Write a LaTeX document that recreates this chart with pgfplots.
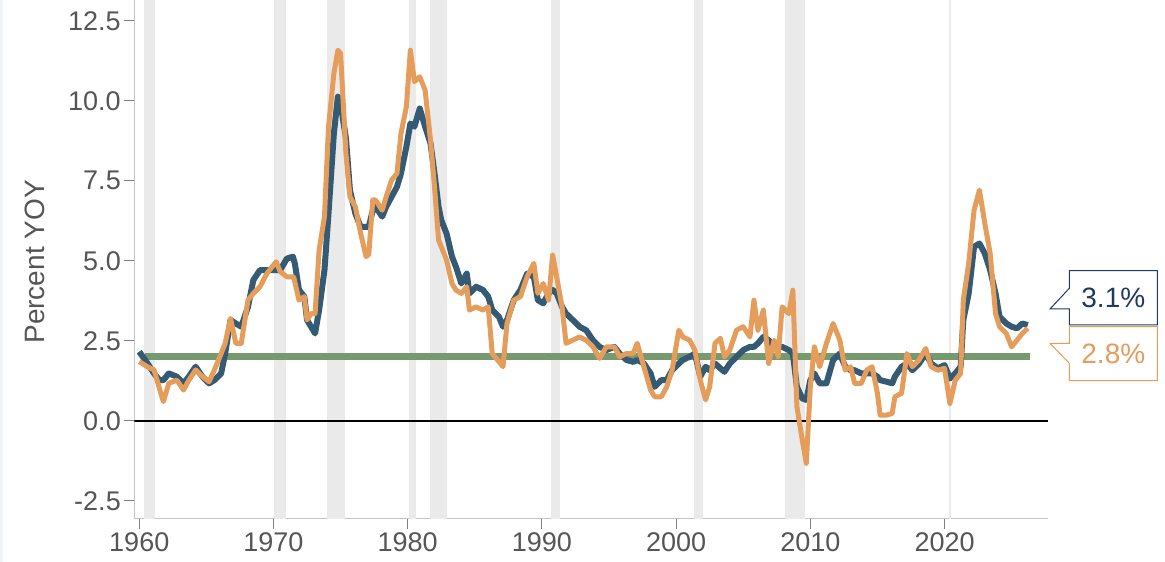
\documentclass[border=0pt]{standalone}
\usepackage{fontspec}
\setmainfont{Liberation Sans}
\usepackage{pgfplots}
\pgfplotsset{compat=1.18}
\definecolor{coreblue}{HTML}{355A73}
\definecolor{headorange}{HTML}{E49D5B}
\definecolor{tgtgreen}{HTML}{76996F}
\definecolor{recgray}{HTML}{EAEAEA}
\definecolor{ticktext}{HTML}{555555}
\definecolor{axgray}{HTML}{C4C4C4}
\definecolor{navy}{HTML}{1F3A60}
\definecolor{edgegray}{HTML}{F0F3F5}
\begin{document}
\begin{tikzpicture}
\useasboundingbox (0pt,0pt) rectangle (1165pt,562pt);
\begin{axis}[
  at={(134.3pt,43.3pt)}, anchor=south west,
  scale only axis, width=913.7pt, height=518.7pt,
  xmin=1959.63, xmax=2027.71, ymin=-3.06, ymax=13.15,
  axis x line*=bottom, axis y line*=left,
  axis line style={draw=axgray, line width=1.5pt, -},
  xtick={1960,1970,1980,1990,2000,2010,2020},
  xticklabels={1960,1970,1980,1990,2000,2010,2020},
  ytick={-2.5,0,2.5,5,7.5,10,12.5},
  yticklabels={-2.5,0.0,2.5,5.0,7.5,10.0,12.5},
  tick label style={font=\fontsize{27}{32}\selectfont, text=ticktext},
  tick align=outside, major tick length=10pt,
  tick style={draw=gray, line width=1pt},
  ylabel={Percent YOY},
  ylabel style={font=\fontsize{28}{33}\selectfont, text=ticktext, at={(axis description cs:-0.1087,0.495)}, anchor=center},
  clip=true,
]
% recessions
\addplot[fill=recgray, draw=none, forget plot] coordinates {(1960.33,-4) (1960.33,14) (1961.17,14) (1961.17,-4)};
\addplot[fill=recgray, draw=none, forget plot] coordinates {(1970.02,-4) (1970.02,14) (1970.90,14) (1970.90,-4)};
\addplot[fill=recgray, draw=none, forget plot] coordinates {(1973.96,-4) (1973.96,14) (1975.30,14) (1975.30,-4)};
\addplot[fill=recgray, draw=none, forget plot] coordinates {(1980.12,-4) (1980.12,14) (1980.62,14) (1980.62,-4)};
\addplot[fill=recgray, draw=none, forget plot] coordinates {(1981.66,-4) (1981.66,14) (1982.95,14) (1982.95,-4)};
\addplot[fill=recgray, draw=none, forget plot] coordinates {(1990.68,-4) (1990.68,14) (1991.35,14) (1991.35,-4)};
\addplot[fill=recgray, draw=none, forget plot] coordinates {(2001.36,-4) (2001.36,14) (2002.03,14) (2002.03,-4)};
\addplot[fill=recgray, draw=none, forget plot] coordinates {(2008.14,-4) (2008.14,14) (2009.63,14) (2009.63,-4)};
\addplot[fill=recgray, draw=none, forget plot] coordinates {(2020.34,-4) (2020.34,14) (2020.49,14) (2020.49,-4)};
% zero line
\addplot[black, line width=2pt, forget plot] coordinates {(1959.63,0) (2027.71,0)};
% 2% target
\addplot[tgtgreen, line width=6.8pt, forget plot] coordinates {(1960.45,2) (2026.4,2)};
% core
\addplot[coreblue, line width=6pt, line join=round] coordinates {
(1960.0,2.16) (1960.6,1.80) (1961.1,1.48) (1961.5,1.27) (1961.8,1.27) (1962.2,1.48) (1962.8,1.38)
(1963.3,1.17) (1963.7,1.38) (1964.2,1.69) (1964.7,1.38) (1965.2,1.17) (1965.6,1.27) (1966.1,1.48)
(1966.4,2.10) (1966.8,3.15) (1967.2,3.04) (1967.6,2.94) (1968.1,3.56) (1968.5,4.40) (1969.0,4.71)
(1969.5,4.71) (1970.2,4.71) (1970.5,4.71) (1971.0,5.07) (1971.45,5.13) (1971.6,4.90) (1971.9,4.09) (1972.3,3.88)
(1972.5,3.15) (1972.8,2.94) (1973.1,2.73) (1973.4,3.46) (1973.8,4.71) (1974.1,6.48) (1974.5,8.98)
(1974.8,10.13) (1975.0,9.90) (1975.4,8.83) (1975.7,7.20) (1976.1,6.48) (1976.5,6.06) (1976.9,6.06)
(1977.1,6.06) (1977.4,6.58) (1977.6,6.69) (1978.1,6.38) (1978.4,6.69) (1978.8,7.00) (1979.2,7.31)
(1979.5,7.73) (1979.9,8.56) (1980.2,9.29) (1980.5,9.19) (1980.9,9.76) (1981.3,9.19) (1981.7,8.67)
(1982.0,7.73) (1982.3,6.69) (1982.5,6.27) (1982.9,5.85) (1983.3,5.13) (1983.6,4.81) (1984.0,4.29)
(1984.4,4.60) (1984.6,3.98) (1985.1,4.19) (1985.6,4.09) (1986.0,3.88) (1986.3,3.46) (1986.8,3.25)
(1987.1,2.94) (1987.4,3.15) (1987.9,3.77) (1988.4,4.09) (1988.9,4.60) (1989.4,4.50) (1989.7,3.77)
(1990.1,3.67) (1990.5,3.98) (1990.8,4.09) (1991.1,3.98) (1991.5,3.56) (1991.8,3.35) (1992.3,3.15)
(1992.8,2.94) (1993.3,2.83) (1993.8,2.52) (1994.3,2.31) (1994.8,2.21) (1995.4,2.31) (1995.8,2.10)
(1996.3,1.90) (1996.8,1.84) (1997.1,1.90) (1997.6,1.79) (1998.1,1.48) (1998.4,1.06) (1998.9,1.27)
(1999.3,1.27) (1999.7,1.58) (2000.2,1.79) (2000.5,1.90) (2001.0,2.00) (2001.4,2.10) (2001.8,1.38)
(2002.2,1.69) (2002.5,1.58) (2002.9,1.79) (2003.3,1.64) (2003.6,1.53) (2004.0,1.79) (2004.5,2.00)
(2005.0,2.21) (2005.5,2.31) (2005.8,2.31) (2006.1,2.42) (2006.5,2.62) (2006.9,2.52) (2007.3,2.31)
(2007.6,2.31) (2007.9,2.31) (2008.4,2.21) (2008.7,2.10) (2009.0,1.06) (2009.4,0.70) (2009.7,0.65)
(2010.0,1.27) (2010.3,1.48) (2010.7,1.17) (2011.2,1.17) (2011.7,1.90) (2012.2,2.10) (2012.6,1.69)
(2013.0,1.58) (2013.3,1.58) (2013.8,1.48) (2014.2,1.48) (2014.6,1.48) (2015.0,1.38) (2015.2,1.27)
(2015.7,1.22) (2016.1,1.17) (2016.3,1.38) (2016.8,1.69) (2017.2,1.79) (2017.6,1.58) (2018.1,1.79)
(2018.6,2.10) (2019.0,1.79) (2019.5,1.64) (2020.0,1.74) (2020.4,1.32) (2020.8,1.48) (2021.2,1.69)
(2021.4,3.15) (2021.8,3.98) (2022.2,5.44) (2022.6,5.54) (2023.0,5.23) (2023.4,4.71) (2023.8,3.98)
(2024.1,3.25) (2024.6,3.04) (2025.0,2.94) (2025.4,2.89) (2025.8,3.04) (2026.2,2.99)
};
% headline
\addplot[headorange, line width=5pt, line join=round] coordinates {
(1960.0,1.85) (1960.6,1.69) (1961.1,1.59) (1961.5,1.01) (1961.8,0.60) (1962.2,1.17) (1962.8,1.27)
(1963.3,0.96) (1963.7,1.27) (1964.2,1.59) (1964.7,1.38) (1965.2,1.22) (1965.6,1.59) (1966.1,2.10)
(1966.4,2.42) (1966.8,3.20) (1967.2,2.42) (1967.6,2.42) (1968.1,3.77) (1968.5,3.98) (1969.0,4.19)
(1969.5,4.60) (1970.2,4.97) (1970.5,4.66) (1971.0,4.50) (1971.5,4.50) (1971.9,3.77) (1972.3,3.88)
(1972.5,3.15) (1972.8,3.35) (1973.1,3.35) (1973.4,5.33) (1973.8,6.38) (1974.1,9.19) (1974.5,10.85)
(1974.8,11.58) (1975.0,11.48) (1975.4,8.35) (1975.7,7.00) (1976.1,6.69) (1976.5,5.85) (1976.9,5.13)
(1977.1,5.20) (1977.4,6.90) (1977.6,6.90) (1978.1,6.58) (1978.4,7.00) (1978.8,7.52) (1979.2,7.73)
(1979.5,8.98) (1979.9,9.81) (1980.2,11.58) (1980.5,10.60) (1980.9,10.75) (1981.3,10.33) (1981.7,8.77)
(1982.0,7.31) (1982.3,5.65) (1982.5,5.44) (1982.9,5.02) (1983.3,4.29) (1983.6,4.08) (1984.0,3.98)
(1984.4,4.19) (1984.6,3.46) (1985.1,3.56) (1985.6,3.46) (1986.0,3.56) (1986.3,2.10) (1986.8,1.85)
(1987.1,1.69) (1987.4,3.04) (1987.9,3.77) (1988.4,3.88) (1988.9,4.50) (1989.4,4.92) (1989.7,3.98)
(1990.1,4.29) (1990.5,3.77) (1990.8,5.18) (1991.1,4.50) (1991.5,3.56) (1991.8,2.42) (1992.3,2.52)
(1992.8,2.62) (1993.3,2.52) (1993.8,2.31) (1994.3,1.95) (1994.8,2.31) (1995.4,2.31) (1995.8,2.00)
(1996.3,2.10) (1996.8,2.10) (1997.1,2.42) (1997.6,1.69) (1998.1,0.96) (1998.4,0.75) (1998.9,0.75)
(1999.3,1.06) (1999.7,1.58) (2000.2,2.83) (2000.5,2.62) (2001.0,2.52) (2001.4,2.21) (2001.8,1.27)
(2002.2,0.65) (2002.5,1.06) (2002.9,2.42) (2003.3,2.58) (2003.6,2.00) (2004.0,2.21) (2004.5,2.83)
(2005.0,2.94) (2005.5,2.62) (2005.8,3.77) (2006.1,2.83) (2006.5,3.46) (2006.9,1.79) (2007.3,2.52)
(2007.6,2.00) (2007.9,3.56) (2008.4,3.35) (2008.7,4.08) (2009.0,0.44) (2009.4,-0.60) (2009.7,-1.33)
(2010.0,1.06) (2010.3,2.31) (2010.7,1.69) (2011.2,2.42) (2011.7,3.04) (2012.2,2.52) (2012.6,1.58)
(2013.0,1.69) (2013.3,1.17) (2013.8,1.17) (2014.2,1.58) (2014.6,1.69) (2015.0,0.86) (2015.2,0.18)
(2015.7,0.18) (2016.1,0.23) (2016.3,0.75) (2016.8,0.86) (2017.2,2.10) (2017.6,1.69) (2018.1,1.90)
(2018.6,2.26) (2019.0,1.69) (2019.5,1.58) (2020.0,1.64) (2020.4,0.54) (2020.8,1.27) (2021.2,1.48)
(2021.4,3.77) (2021.8,4.92) (2022.2,6.58) (2022.6,7.21) (2023.0,6.17) (2023.4,5.23) (2023.8,3.35)
(2024.1,2.94) (2024.6,2.73) (2025.0,2.31) (2025.4,2.52) (2025.8,2.73) (2026.2,2.89)
};
\end{axis}
\begin{scope}[x=1pt, y=-1pt, yshift=562pt]
\fill[edgegray] (0,0) rectangle (3.3,562);
\draw[navy, line width=1pt, fill=white] (1069.3,270.7) -- (1157.3,270.7) -- (1157.3,325) -- (1069.3,325) -- (1069.3,309) -- (1050,309) -- (1069.3,288.3) -- cycle;
\node[text=navy, font=\fontsize{28}{33}\selectfont] at (1113.3,297.9) {3.1\%};
\draw[headorange, line width=1pt, fill=white] (1069.3,326.7) -- (1157.3,326.7) -- (1157.3,380.7) -- (1069.3,380.7) -- (1069.3,363.3) -- (1050,343.3) -- (1069.3,343.3) -- cycle;
\node[text=headorange, font=\fontsize{28}{33}\selectfont] at (1113.3,353.7) {2.8\%};
\end{scope}
\end{tikzpicture}
\end{document}
